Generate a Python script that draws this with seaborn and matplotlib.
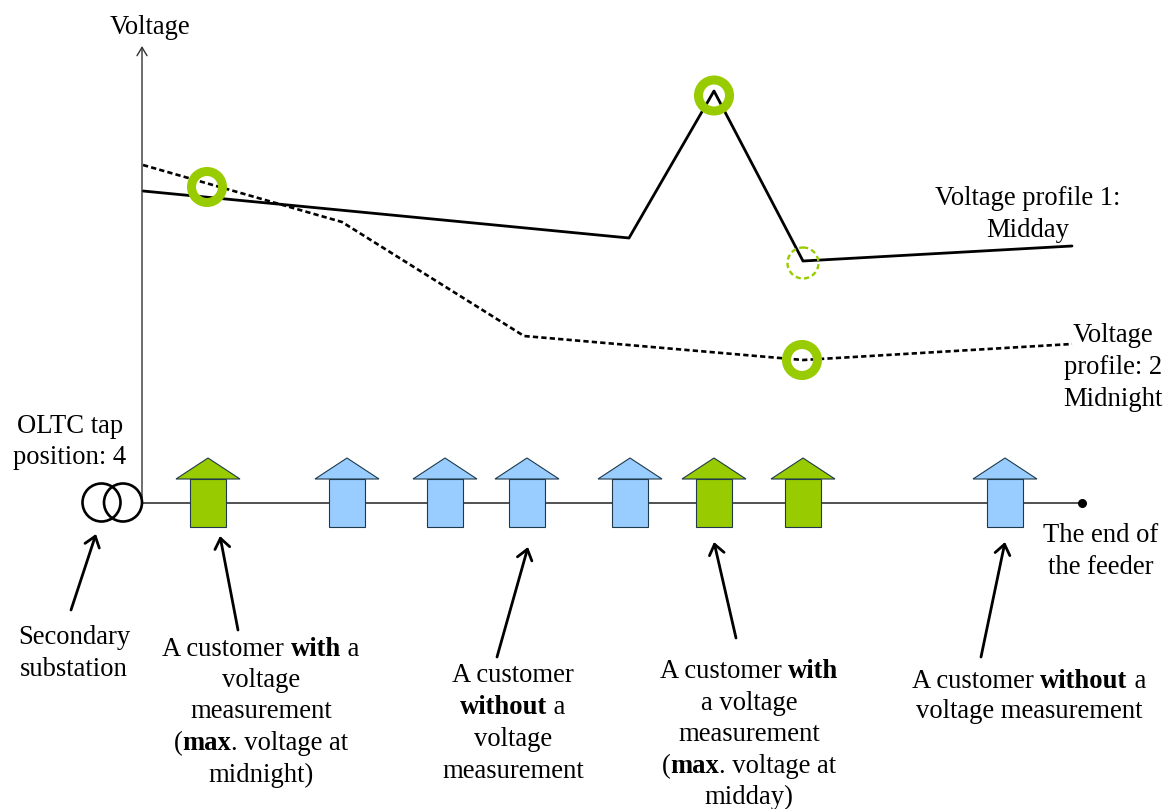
import pandas as pd
import matplotlib
matplotlib.use("Agg")
import matplotlib.pyplot as plt
from matplotlib.patches import Circle, Polygon, Rectangle
import seaborn as sns

# voltage profiles (pixel positions)
midday_x = [143, 629, 714, 803, 1072]
midday_y = [191, 238, 91, 261, 246]
midnight_x = [143, 342, 524, 803, 1072]
midnight_y = [165, 222, 336, 360, 344]

# customers along the feeder
house_x = [208, 347, 445, 527, 630, 714, 803, 1005]
house_kind = ["with", "without", "without", "without", "without", "with", "with", "without"]
house_col = {"with": "#99CC00", "without": "#99CCFF"}

ring_x = [207, 714, 802]
ring_y = [187, 95.5, 360]

arrow_from = [(71, 610), (238, 630), (497, 657), (736, 638), (981, 657)]
arrow_to = [(96, 534), (220, 536), (528, 547), (714, 542), (1005, 542)]

# text blocks: centre x, first line y, line step, lines. **..** marks bold
labels = [
    (150, 24, 32, ["Voltage"]),
    (1028, 195, 32, ["Voltage profile 1:", "Midday"]),
    (1113, 332, 32, ["Voltage", "profile: 2", "Midnight"]),
    (70, 423, 31, ["OLTC tap", "position: 4"]),
    (1101, 533, 32, ["The end of", "the feeder"]),
    (74, 635, 32, ["Secondary", "substation"]),
    (261, 646, 31.5, ["A customer **with** a", "voltage", "measurement", "(**max**. voltage at", "midnight)"]),
    (513, 673, 32, ["A customer", "**without** a", "voltage", "measurement"]),
    (749, 669, 31.4, ["A customer **with**", "a voltage", "measurement", "(**max**. voltage at", "midday)"]),
    (1029, 678, 31, ["A customer **without** a", "voltage measurement"]),
]

sns.set_theme(style="white")
plt.rcParams["font.family"] = ["Liberation Serif", "DejaVu Serif"]

fig, ax = plt.subplots(figsize=(11.66, 8.09), dpi=100)
ax.set_position([0, 0, 1, 1])
ax.axis("off")

df1 = pd.DataFrame({"x": midday_x, "y": midday_y})
df2 = pd.DataFrame({"x": midnight_x, "y": midnight_y})
sns.lineplot(data=df1, x="x", y="y", ax=ax, sort=False, color="black", lw=2.0, zorder=3)
sns.lineplot(data=df2, x="x", y="y", ax=ax, sort=False, color="black", lw=1.9, zorder=3,
             linestyle=(0, (2.0, 1.2)))
ax.set_xlim(0, 1166)
ax.set_ylim(809, 0)

# axis and feeder
ax.plot([143, 1082], [503, 503], color="#222222", lw=1.1, zorder=1)
ax.annotate("", xy=(142, 46), xytext=(142, 503),
            arrowprops=dict(arrowstyle="->,head_length=0.5,head_width=0.3", color="#333333", lw=1.0,
                            shrinkA=0, shrinkB=0))
ax.scatter([1082], [503], s=30, color="black", zorder=4)

# transformer
for cx in [101.5, 123]:
    ax.add_patch(Circle((cx, 502.5), 19, fill=False, ec="black", lw=1.9, zorder=4))

# houses
for x, kind in zip(house_x, house_kind):
    col = house_col[kind]
    ax.add_patch(Rectangle((x - 18, 479), 36, 48, fc=col, ec="#1f3a4a", lw=0.8, zorder=2))
    ax.add_patch(Polygon([(x - 32, 479), (x, 458), (x + 32, 479)], closed=True, fc=col,
                         ec="#1f3a4a", lw=0.8, zorder=2))

# rings
for x, y in zip(ring_x, ring_y):
    ax.add_patch(Circle((x, y), 15.5, fill=False, ec="#99CC00", lw=6.5, zorder=5))
ax.add_patch(Circle((803, 263), 15.5, fill=False, ec="#99CC00", lw=1.7, ls=(0, (2.2, 1.4)), zorder=5))

for a, b in zip(arrow_from, arrow_to):
    ax.annotate("", xy=b, xytext=a, zorder=6,
                arrowprops=dict(arrowstyle="->,head_length=0.6,head_width=0.45", color="black", lw=2.0,
                                shrinkA=0, shrinkB=0))


def draw_line(cx, y, line):
    # split on ** and lay the pieces side by side so bold words stay inline
    parts = line.split("**")
    r = fig.canvas.get_renderer()
    texts = []
    for i, p in enumerate(parts):
        if p == "":
            continue
        t = ax.text(0, y, p, fontsize=19.2, color="black", va="center_baseline", ha="left",
                    fontweight="bold" if i % 2 else "normal", zorder=7)
        texts.append(t)
    widths = [t.get_window_extent(r).width for t in texts]
    x = cx - sum(widths) / 2
    for t, w in zip(texts, widths):
        t.set_x(x)
        x += w


for cx, y0, step, lines in labels:
    for i, line in enumerate(lines):
        draw_line(cx, y0 + i * step, line)

fig.savefig("out.png", dpi=100)
